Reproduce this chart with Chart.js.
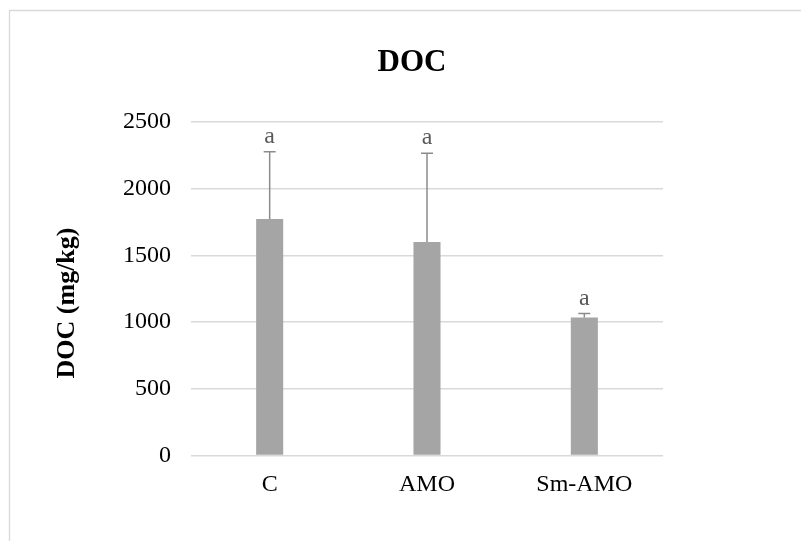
<!DOCTYPE html>
<html>
<head>
<meta charset="utf-8">
<title>DOC</title>
<script src="https://cdn.jsdelivr.net/npm/chart.js@4/dist/chart.umd.min.js"></script>
<style>
    html, body { margin: 0; padding: 0; background: #fff; }
    canvas { display: block; }
</style>
</head>
<body>
<canvas id="docChart" width="801" height="541"></canvas>
<script>
var categories = ["C", "AMO", "Sm-AMO"];
var docValues = [1772, 1601, 1034];
var docErrors = [505, 664, 30];
var sigLetters = ["a", "a", "a"];
var yTicks = [0, 500, 1000, 1500, 2000, 2500];

var SERIF = '"Liberation Serif", "Times New Roman", serif';

// frame + white background (only top/left edges visible in the original crop)
var framePlugin = {
    id: 'frame',
    beforeDraw: function (chart) {
        var ctx = chart.ctx;
        ctx.save();
        ctx.fillStyle = '#ffffff';
        ctx.fillRect(0, 0, chart.width, chart.height);
        ctx.strokeStyle = '#d9d9d9';
        ctx.lineWidth = 1.3;
        ctx.beginPath();
        ctx.moveTo(9.5, chart.height);
        ctx.lineTo(9.5, 10.5);
        ctx.lineTo(chart.width, 10.5);
        ctx.stroke();
        ctx.restore();
    }
};

// error bars and significance letters
var errorBarPlugin = {
    id: 'errorBars',
    afterDatasetsDraw: function (chart) {
        var ctx = chart.ctx;
        var yScale = chart.scales.y;
        var meta = chart.getDatasetMeta(0);
        ctx.save();
        meta.data.forEach(function (bar, i) {
            var x = bar.x;
            var yTop = yScale.getPixelForValue(docValues[i] + docErrors[i]);
            var yBar = yScale.getPixelForValue(docValues[i]);
            ctx.strokeStyle = '#8c8c8c';
            ctx.lineWidth = 1.5;
            ctx.beginPath();
            ctx.moveTo(x, yBar);
            ctx.lineTo(x, yTop);
            ctx.moveTo(x - 6, yTop);
            ctx.lineTo(x + 6, yTop);
            ctx.stroke();

            ctx.fillStyle = '#595959';
            ctx.font = '24px ' + SERIF;
            ctx.textAlign = 'center';
            ctx.textBaseline = 'alphabetic';
            ctx.fillText(sigLetters[i], x, yTop - 9);
        });
        ctx.restore();
    }
};

// chart title and y axis title (both sit off-centre in the original)
var titlesPlugin = {
    id: 'titles',
    afterDraw: function (chart) {
        var ctx = chart.ctx;
        ctx.save();
        ctx.fillStyle = '#000000';
        ctx.textAlign = 'center';
        ctx.textBaseline = 'middle';
        ctx.font = 'bold 31px ' + SERIF;
        ctx.fillText('DOC', 412, 63);

        ctx.translate(67, 303);
        ctx.rotate(-Math.PI / 2);
        ctx.font = 'bold 26px ' + SERIF;
        ctx.fillText('DOC (mg/kg)', 0, 0);
        ctx.restore();
    }
};

Chart.defaults.font.family = SERIF;
Chart.defaults.color = '#000000';

new Chart(document.getElementById('docChart'), {
    type: 'bar',
    data: {
        labels: categories,
        datasets: [{
            label: 'DOC',
            data: docValues,
            backgroundColor: '#a5a5a5',
            borderWidth: 0,
            categoryPercentage: 1,
            barPercentage: 0.172
        }]
    },
    options: {
        responsive: false,
        animation: false,
        devicePixelRatio: 1,
        layout: {
            padding: { left: 10, right: 138, top: 122, bottom: 35.6 }
        },
        plugins: {
            legend: { display: false },
            tooltip: { enabled: false },
            title: { display: false }
        },
        scales: {
            x: {
                grid: { display: false },
                border: { display: false },
                ticks: {
                    padding: 6.6,
                    color: '#000000',
                    font: { size: 24, family: SERIF, lineHeight: 1.2 }
                }
            },
            y: {
                min: 0,
                max: 2500,
                afterFit: function (scale) { scale.width = 181; },
                afterBuildTicks: function (scale) {
                    scale.ticks = yTicks.map(function (v) { return { value: v }; });
                },
                grid: { color: '#d9d9d9', lineWidth: 1.5, drawTicks: false },
                border: { display: false },
                ticks: {
                    padding: 20,
                    color: '#000000',
                    font: { size: 24, family: SERIF, lineHeight: 1.2 },
                    callback: function (value) { return String(value); }
                }
            }
        }
    },
    plugins: [framePlugin, errorBarPlugin, titlesPlugin]
});
</script>
</body>
</html>
